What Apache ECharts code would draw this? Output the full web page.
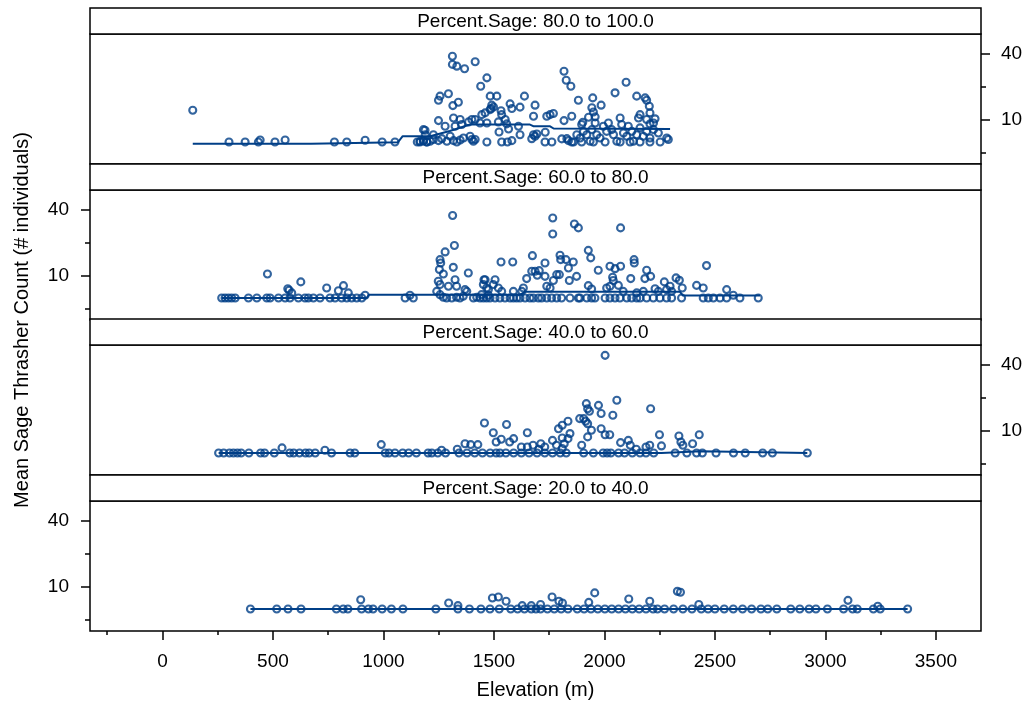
<!DOCTYPE html>
<html><head><meta charset="utf-8">
<script src="https://cdn.jsdelivr.net/npm/echarts@6/dist/echarts.min.js"></script>
<style>html,body{margin:0;padding:0;background:#fff}#c{width:1034px;height:715px}</style>
</head><body><div id="c"></div>
<script>
// ---------------- data ----------------
const panelLabels = [
  'Percent.Sage: 80.0 to 100.0',
  'Percent.Sage: 60.0 to 80.0',
  'Percent.Sage: 40.0 to 60.0',
  'Percent.Sage: 20.0 to 40.0'
];
const xTicks = [0, 500, 1000, 1500, 2000, 2500, 3000, 3500];
const xMinorTicks = [-250, 250, 750, 1250, 1750, 2250, 2750, 3250];
const yTicks = [10, 40];
const yMinorTicks = [-5, 25];

// [elevation (m), mean count]
const sage80to100 = [
  [137,14.4],[301,0],[374,0],[434,0],[442,0.9],[509,0],[555,0.9],[778,0],[834,0],[917,0.8],[994,0],[1052,0],
  [1153,0],[1165,0],[1180,0.5],[1196,0],[1188,5.3],
  [1312,38.9],[1312,35.2],[1332,34.4],[1367,33.2],[1415,36.4],[1468,29.1],[1440,25.3],[1817,32.1],[1827,28.0],
  [1848,25.3],[2098,27.1],[2048,22.3],[1249,18.9],[1256,20.8],[1294,21.9],[1314,16.5],[1339,18.0],[1483,20.8],
  [1513,20.8],[1490,16.7],[1487,15.2],[1498,15.9],[1532,14.2],[1535,12.4],[1573,17.3],[1581,15.2],[1618,15.8],
  [1638,20.8],[1686,16.7],[1679,11.7],[1882,18.9],[1947,20.0],[1943,15.5],[1985,16.7],[1950,13.6],[2146,20.8],
  [2184,20.0],[2191,18.9],[2203,16.2],[2206,13.2],[1739,11.7],[1754,12.4],[1769,12.9],[1852,11.7],[1817,9.7],
  [1902,8.9],[1897,7.9],[1928,11.2],[1958,11.4],[2161,12.4],[2154,10.9],[2191,10.2],[2229,10.5],[2222,8.6],
  [2206,8.2],[1181,5.6],[1189,3.3],[1226,3.3],[1249,9.7],[1279,7.1],[1317,10.9],[1347,10.2],[1354,7.9],
  [1324,7.1],[1385,9.1],[1400,10.2],[1415,10.2],[1445,12.4],[1460,13.2],[1483,14.7],[1437,8.6],[1468,8.6],
  [1520,9.1],[1551,10.2],[1558,8.2],[1523,4.5],[1566,5.9],[1611,7.1],[1618,3.3],[1679,3.3],[1694,3.6],[1732,4.4],
  [1166,0.3],[1181,0.6],[1196,0],[1211,0.3],[1226,1.1],[1249,0.6],[1264,1.5],[1287,0.3],[1302,2.6],[1317,0.6],
  [1332,0],[1347,0.9],[1362,1.8],[1392,2.6],[1400,1.1],[1407,0.3],[1415,1.1],[1468,0],[1535,0],[1561,0],
  [1581,0.6],[1671,1.5],[1686,2.6],[1731,0],[1762,0],[1807,1.4],[1837,0.6],[1860,0],[1875,3.3],[1890,1.8],
  [1905,4.8],[1920,3.3],[1935,0.3],[1943,5.6],[1958,8.6],[1965,3.3],[1980,1.8],[1995,7.1],[2010,4.8],[2018,8.6],
  [2033,5.6],[2041,3.3],[2056,0.3],[2071,10.9],[2078,7.9],[2086,4.1],[2101,2.6],[2108,7.1],[2124,4.8],[2131,0.3],
  [2146,3.3],[2161,6.4],[2176,2.6],[2191,4.8],[2206,1.8],[2222,5.6],[2244,4.1],[2282,1.8],[2289,1.1],[2071,0],
  [2116,0],[2161,0],[2206,0],[2252,0],[2003,0],[1950,0],[1897,0],[1852,0],[1830,1.5]
];
const sage60to80 = [
  [268,0],[283,0],[298,0],[313,0],[329,0],[389,0],[427,0],[472,0],[487,0],[525,0],[555,0],[577,0],[615,0],
  [645,0],[660,0],[683,0],[713,0],[758,0],[781,0],[811,0],[834,0],[856,0],[879,0],[902,0],[917,1.2],[1098,0],
  [1120,1.2],[1135,0],
  [475,10.9],[573,3.5],[567,4.2],[585,2.3],[626,7.3],[743,4.5],[796,3.3],[819,5.6],[841,2.3],
  [1313,37.4],[1321,23.8],[1279,20.9],[1256,17.4],[1259,15.9],[1253,12.9],[1316,13.9],[1248,7.6],[1256,6.1],
  [1271,10.9],[1324,8.3],[1331,5.3],[1294,5.3],[1384,11.3],[1369,3.8],[1377,3.0],[1455,8.3],[1467,4.5],
  [1241,3.0],[1256,1.5],[1271,0.3],[1286,0],[1309,0],[1331,0.3],[1346,0],[1361,0.8],[1407,0],[1422,0.3],
  [1444,1.5],[1475,1.2],
  [1766,36.3],[1766,29.0],[1864,33.6],[1882,31.8],[2073,31.8],[1927,21.6],[1938,18.2],[1674,19.2],[1532,16.3],
  [1585,16.3],[1731,15.9],[1799,19.4],[1802,17.4],[1826,17.4],[1859,16.3],[1837,13.6],[1874,9.8],[1972,12.6],
  [2025,14.4],[2048,13.3],[2073,14.4],[2134,17.4],[2135,15.9],[2191,12.6],[2183,8.8],[2209,9.8],[2119,8.8],
  [2462,14.7],[2271,7.3],[2324,9.1],[2339,8.0],[2352,4.5],[2417,5.7],[2447,4.5],[2553,3.8],[2583,1.2],
  [1671,12.1],[1686,12.1],[1705,12.4],[1696,10.3],[1648,8.8],[1784,10.6],[1796,10.6],[1769,7.9],[1731,9.8],
  [1841,7.9],[2037,9.4],[2040,7.9],[1927,5.6],[1942,4.1],[1460,8.3],[1505,8.3],[1452,6.1],[1497,6.1],[1475,3.8],
  [1520,4.5],[1535,3.0],[1633,4.5],[1626,3.0],[1588,3.0],[1739,5.3],[1754,4.5],[2010,4.5],[2025,5.3],[2063,5.7],
  [2085,3.0],[2146,2.3],[2176,3.0],[2229,4.2],[2244,3.0],[2281,3.8],[2297,5.3],[2304,3.0],
  [1437,0],[1452,0],[1467,0],[1482,0],[1505,0],[1527,0],[1550,0],[1573,0],[1588,0],[1603,0],[1618,0],[1641,0],
  [1663,0],[1678,0],[1701,0],[1716,0],[1739,0],[1761,0],[1784,0],[1806,0],[1844,0],[1882,0],[1889,0],[1920,0],
  [1942,0],[1957,0],[2003,0],[2025,0],[2048,0],[2070,0],[2101,0],[2123,0],[2146,0],[2161,0],[2191,0],[2221,0],
  [2251,0],[2281,0],[2304,0],[2349,0],[2447,0],[2470,0],[2493,0],[2523,0],[2553,0],[2613,0],[2696,0]
];
const sage40to60 = [
  [2003,44.3],[2056,23.9],[2209,20.1],[1918,22.4],[1924,20.1],[1973,21.6],[1932,18.9],[1985,17.9],[1888,15.6],
  [1906,15.6],[1915,14.4],[1924,13.3],[2038,17.1],[1835,14.4],[1809,12.6],[1792,11.0],[1941,10.3],[1985,11.0],
  [1924,7.3],[2003,8.3],[2024,8.3],[1897,3.5],[1844,8.8],[1835,6.5],[1818,4.2],[1809,6.8],[1765,5.7],[1712,4.2],
  [1651,9.2],[1557,12.9],[1457,13.6],[1497,9.2],[1533,6.2],[1510,5.0],[1589,6.5],[1571,5.0],[2073,4.7],[2108,5.7],
  [2117,3.5],[2249,8.3],[2258,3.2],[2337,7.7],[2346,5.0],[2355,3.5],[2399,4.2],[2429,8.3],[2205,3.5],[2188,2.7],
  [2144,1.7],[990,3.8],[541,2.3],[735,1.2],[1369,4.2],[1395,3.8],[1427,3.8],[1703,1.7],[1624,2.7],[1651,2.7],
  [1334,1.7],[1263,1.2],[1677,3.5],[1730,2.7],[1783,3.5],[1809,2.0],
  [254,0],[277,0],[303,0],[321,0],[339,0],[356,0],[391,0],[444,0],[462,0],[506,0],[576,0],[594,0],[620,0],
  [647,0],[664,0],[691,0],[765,0],[849,0],[870,0],[1008,0],[1025,0],[1052,0],[1087,0],[1114,0],[1149,0],
  [1202,0],[1219,0],[1246,0],[1281,0],[1342,0],[1378,0],[1413,0],[1448,0],[1483,0],[1510,0],[1527,0],[1554,0],
  [1589,0],[1624,0],[1659,0],[1695,0],[1730,0],[1765,0],[1800,0],[1827,0],[1906,0],[1950,0],[1994,0],[2012,0],
  [2029,0],[2064,0],[2091,0],[2126,0],[2161,0],[2188,0],[2223,0],[2320,0],[2373,0],[2417,0],[2443,0],[2505,0],
  [2584,0],[2637,0],[2716,0],[2760,0],[2918,0]
];
const sage20to40 = [
  [897,4.2],[1295,2.7],[1337,1.5],[1493,5.0],[1520,5.4],[1555,3.5],[1763,5.4],[1794,3.5],[1810,2.7],[1956,7.3],
  [1929,3.0],[2110,4.5],[2205,3.5],[2330,8.0],[2344,7.6],[2427,2.0],[3102,3.9],[3237,1.2],[1628,1.5],[1669,1.5],
  [1711,2.0],
  [398,0],[517,0],[568,0],[627,0],[787,0],[818,0],[839,0],[901,0],[932,0],[953,0],[994,0],[1036,0],[1088,0],
  [1237,0],[1337,0],[1389,0],[1441,0],[1482,0],[1524,0],[1576,0],[1607,0],[1638,0],[1669,0],[1690,0],[1711,0],
  [1742,0],[1773,0],[1804,0],[1835,0],[1877,0],[1908,0],[1939,0],[1970,0],[2002,0],[2033,0],[2064,0],[2095,0],
  [2126,0],[2157,0],[2188,0],[2220,0],[2240,0],[2272,0],[2313,0],[2355,0],[2396,0],[2438,0],[2469,0],[2500,0],
  [2542,0],[2583,0],[2625,0],[2666,0],[2708,0],[2739,0],[2780,0],[2843,0],[2884,0],[2926,0],[2957,0],[3009,0],
  [3082,0],[3123,0],[3144,0],[3217,0],[3248,0],[3372,0]
];

// smooth (fitted) lines
const fit80to100 = [[137,-0.8],[672,-0.8],[680,-0.1],[1066,-0.1],[1087,2.6],[1211,2.6],[1300,5.0],[1392,7.9],
  [1663,7.9],[1680,7.1],[1754,7.1],[1770,6.1],[2297,5.9]];
const fit60to80 = [[268,0],[924,0],[935,1.5],[1620,1.5],[1640,2.8],[2342,2.8],[2355,1.1],[2704,1.1]];
const fit40to60 = [[254,0],[2258,0],[2265,0.8],[2437,0.8],[2445,0],[2918,0]];
const fit20to40 = [[398,0],[3372,0]];

// ---------------- chart ----------------
const panelPoints = [sage80to100, sage60to80, sage40to60, sage20to40];
const panelFits = [fit80to100, fit60to80, fit40to60, fit20to40];
const FONT = "'Liberation Sans', Arial, sans-serif";
const BLUE = '#003f87';
const tops = [34, 190, 345, 501];
const H = 130, L = 90, W = 891, STRIP = 26;
const XMIN = -328, XMAX = 3704, YMIN = -10, YMAX = 49;
const TICK_FS = 19, TITLE_FS = 20, STRIP_FS = 19;
const plain = v => String(v);

const grids = [], xAxes = [], yAxes = [], series = [], graphics = [];
tops.forEach((top, i) => {
  grids.push({left: L, top: top, width: W, height: H, show: true,
    borderColor: '#000', borderWidth: 1.5, backgroundColor: 'rgba(0,0,0,0)'});
  const bottom = i === 3;
  xAxes.push({gridIndex: i, type: 'value', min: XMIN, max: XMAX, position: 'bottom',
    axisLine: {show: false, onZero: false}, splitLine: {show: false},
    axisTick: {show: bottom, customValues: xTicks, length: 9, lineStyle: {color: '#000', width: 1.5}},
    axisLabel: {show: bottom, customValues: xTicks, formatter: plain, margin: 21, fontSize: TICK_FS,
      color: '#000', fontFamily: FONT},
    name: bottom ? 'Elevation (m)' : '', nameLocation: 'middle', nameGap: 49,
    nameTextStyle: {fontSize: TITLE_FS, color: '#000', fontFamily: FONT}});
  xAxes.push({gridIndex: i, type: 'value', min: XMIN, max: XMAX, position: 'bottom',
    axisLine: {show: false, onZero: false}, splitLine: {show: false},
    axisTick: {show: bottom, customValues: xMinorTicks, length: 4, lineStyle: {color: '#000', width: 1.5}},
    axisLabel: {show: false}});
  const pos = (i % 2 === 0) ? 'right' : 'left';
  yAxes.push({gridIndex: i, type: 'value', min: YMIN, max: YMAX, position: pos,
    axisLine: {show: false, onZero: false}, splitLine: {show: false},
    axisTick: {show: true, customValues: yTicks, length: 9, lineStyle: {color: '#000', width: 1.5}},
    axisLabel: {show: true, customValues: yTicks, formatter: plain, margin: pos === 'left' ? 21 : 20,
      fontSize: TICK_FS, color: '#000', fontFamily: FONT}});
  yAxes.push({gridIndex: i, type: 'value', min: YMIN, max: YMAX, position: pos,
    axisLine: {show: false, onZero: false}, splitLine: {show: false},
    axisTick: {show: true, customValues: yMinorTicks, length: 5, lineStyle: {color: '#000', width: 1.5}},
    axisLabel: {show: false}});
  series.push({type: 'scatter', xAxisIndex: 2 * i, yAxisIndex: 2 * i, data: panelPoints[i],
    symbol: 'circle', symbolSize: 7,
    itemStyle: {color: 'rgba(0,0,0,0)', borderColor: BLUE, borderWidth: 2.1}, z: 3});
  series.push({type: 'line', xAxisIndex: 2 * i, yAxisIndex: 2 * i, data: panelFits[i],
    showSymbol: false, symbol: 'none', lineStyle: {color: BLUE, width: 2}, z: 2});
  graphics.push({type: 'rect', shape: {x: L, y: top - STRIP, width: W, height: STRIP},
    style: {fill: '#fff', stroke: '#000', lineWidth: 1.5}, z: 10});
  graphics.push({type: 'text', x: L + W / 2, y: top - STRIP / 2 + 1,
    style: {text: panelLabels[i], align: 'center', verticalAlign: 'middle', fontSize: STRIP_FS,
      fontFamily: FONT, fill: '#000'}, z: 11});
});
graphics.push({type: 'text', x: 22, y: 320, rotation: Math.PI / 2,
  style: {text: 'Mean Sage Thrasher Count (# individuals)', align: 'center', verticalAlign: 'middle',
    fontSize: TITLE_FS, fontFamily: FONT, fill: '#000'}});

const chart = echarts.init(document.getElementById('c'), null, {renderer: 'canvas'});
chart.setOption({
  animation: false,
  backgroundColor: '#fff',
  grid: grids, xAxis: xAxes, yAxis: yAxes, series: series, graphic: graphics
});
</script>
</body></html>
